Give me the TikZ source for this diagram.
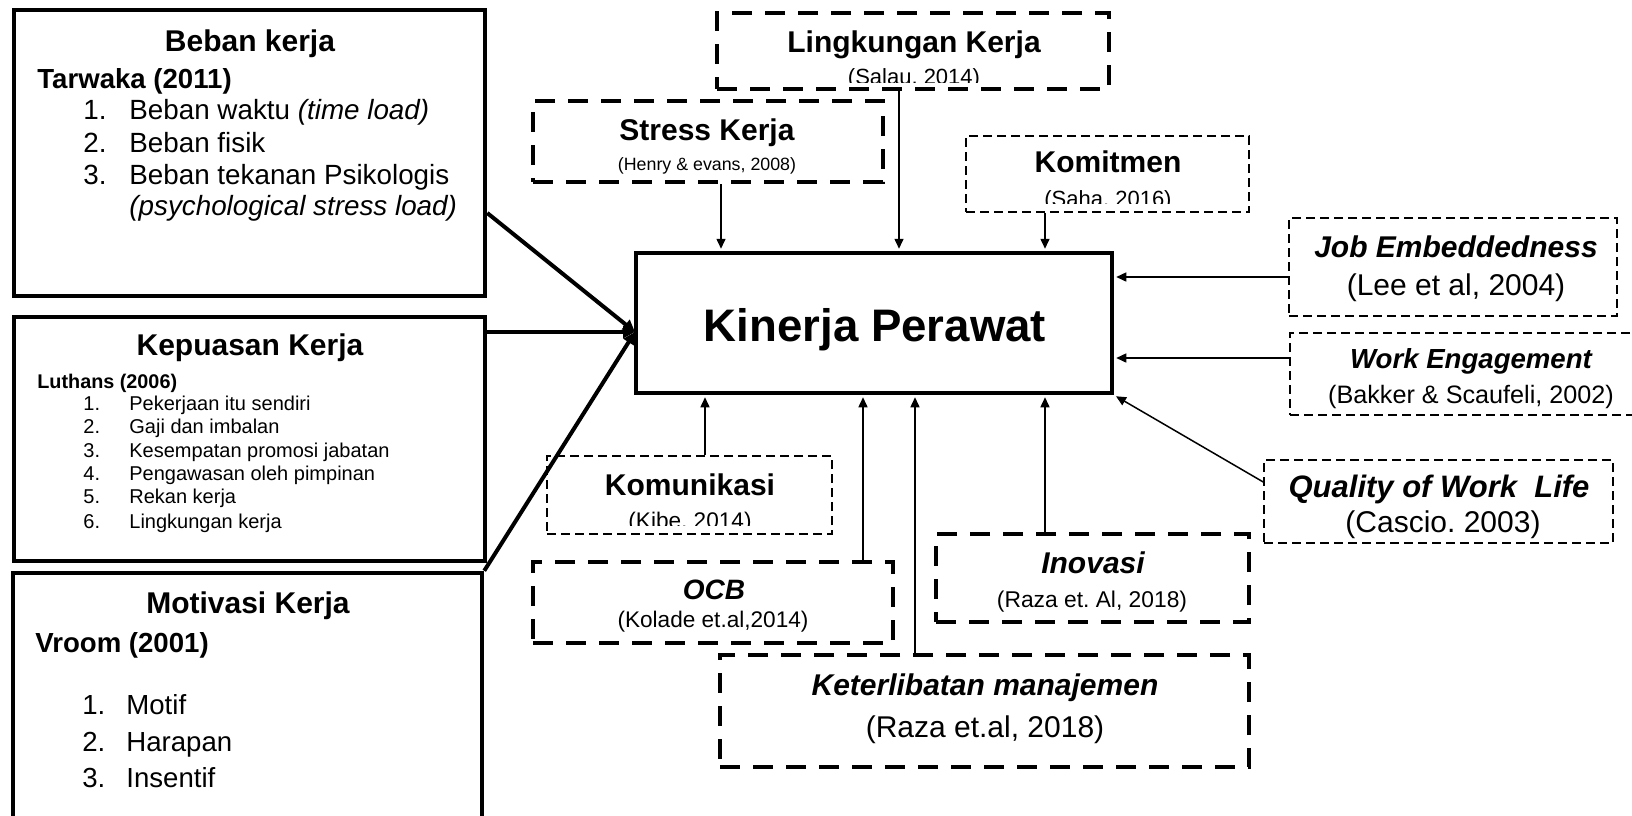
\documentclass[tikz,border=0pt]{standalone}
\usepackage{fontspec}
\setmainfont{Liberation Sans}
\usetikzlibrary{arrows.meta,fit}
\newcommand{\fsz}[1]{\fontsize{#1}{#1}\selectfont}
\frenchspacing
\begin{document}
\begin{tikzpicture}[x=0.5pt,y=-0.5pt,
  solidbox/.style={draw,line width=2.25pt,inner sep=0pt},
  thickdash/.style={draw,line width=2pt,dash pattern=on 10pt off 6.5pt,inner sep=0pt},
  thindash/.style={draw,line width=0.75pt,dash pattern=on 4.5pt off 2.5pt,inner sep=0pt},
  arr/.style={line width=0.75pt,-{Triangle[length=5pt,width=4.5pt]},shorten >=1pt},
  bigarr/.style={line width=2pt,-{Triangle[length=6pt,width=6pt]}},
  txt/.style={anchor=base,inner sep=0pt},
  lt/.style={anchor=base west,inner sep=0pt},
]
\clip (0,0) rectangle (1632,815);
\fill[white] (0,0) rectangle (1632,815);

% ---------- boxes ----------
\node[solidbox,fit={(14,10) (485,296)}] (beban) {};
\node[solidbox,fit={(14,317) (485,561)}] (kep) {};
\node[solidbox,fit={(13,573) (482,850)}] (mot) {};
\node[solidbox,fit={(636,253) (1112,393)}] (kin) {};
\node[thickdash,fit={(717,13) (1109,89)}] (ling) {};
\node[thickdash,fit={(533,101) (883,182)}] (stress) {};
\node[thindash,fit={(966,136) (1249,212)}] (kom) {};
\node[thindash,fit={(1289,218) (1617,316)}] (job) {};
\node[thindash,fit={(1290,333) (1650,415)}] (work) {};
\node[thindash,fit={(1264,460) (1613,543)}] (qwl) {};
\node[thindash,fit={(547,456) (832,534)}] (komu) {};
\node[thickdash,fit={(533,562) (893,643)}] (ocb) {};
\node[thickdash,fit={(936,534) (1249,622)}] (ino) {};
\node[thickdash,fit={(720,655) (1249,767)}] (ket) {};

% ---------- left boxes text ----------
\node[txt,font=\bfseries\fsz{15}] (bebanT) at (250,51) {Beban kerja};
\node[lt,font=\bfseries\fsz{13.8}] (tarwaka) at (37,88) {Tarwaka (2011)};
\node[lt,font=\fsz{13.9}] (b1n) at (83,119) {1.};
\node[lt,font=\fsz{13.9}] (b1) at (129,119) {Beban waktu \textit{(time load)}};
\node[lt,font=\fsz{13.9}] (b2n) at (83,152) {2.};
\node[lt,font=\fsz{13.9}] (b2) at (129,152) {Beban fisik};
\node[lt,font=\fsz{13.9}] (b3n) at (83,184) {3.};
\node[lt,font=\fsz{13.9}] (b3) at (129,184) {Beban tekanan Psikologis};
\node[lt,font=\itshape\fsz{13.9}] (b4) at (129,215) {(psychological stress load)};

\node[txt,font=\bfseries\fsz{15}] (kepT) at (250,355) {Kepuasan Kerja};
\node[lt,font=\bfseries\fsz{9.9}] (luthans) at (37,388) {Luthans (2006)};
\node[lt,font=\fsz{10}] (k1n) at (83,410) {1.};
\node[lt,font=\fsz{10}] (k1) at (129,410) {Pekerjaan itu sendiri};
\node[lt,font=\fsz{10}] (k2n) at (83,433) {2.};
\node[lt,font=\fsz{10}] (k2) at (129,433) {Gaji dan imbalan};
\node[lt,font=\fsz{10}] (k3n) at (83,457) {3.};
\node[lt,font=\fsz{10}] (k3) at (129,457) {Kesempatan promosi jabatan};
\node[lt,font=\fsz{10}] (k4n) at (83,480) {4.};
\node[lt,font=\fsz{10}] (k4) at (129,480) {Pengawasan oleh pimpinan};
\node[lt,font=\fsz{10}] (k5n) at (83,503) {5.};
\node[lt,font=\fsz{10}] (k5) at (129,503) {Rekan kerja};
\node[lt,font=\fsz{10}] (k6n) at (83,528) {6.};
\node[lt,font=\fsz{10}] (k6) at (129,528) {Lingkungan kerja};

\node[txt,font=\bfseries\fsz{15}] (motT) at (248,613) {Motivasi Kerja};
\node[lt,font=\bfseries\fsz{13.8}] (vroom) at (35,652) {Vroom (2001)};
\node[lt,font=\fsz{13.8}] (m1n) at (82,714) {1.};
\node[lt,font=\fsz{13.8}] (m1) at (126,714) {Motif};
\node[lt,font=\fsz{13.8}] (m2n) at (82,751) {2.};
\node[lt,font=\fsz{13.8}] (m2) at (126,751) {Harapan};
\node[lt,font=\fsz{13.8}] (m3n) at (82,787) {3.};
\node[lt,font=\fsz{13.8}] (m3) at (126,787) {Insentif};

% ---------- centre and other texts ----------
\node[txt,font=\bfseries\fsz{22.8}] (kinT) at (875,341) {Kinerja Perawat};

\node[txt,font=\bfseries\fsz{15}] (lingT) at (914,52) {Lingkungan Kerja};
\begin{scope}
  \clip ([yshift=4.5pt]ling.south west) rectangle (ling.north east);
  \node[txt,font=\fsz{11}] (salau) at (914,84) {(Salau, 2014)};
\end{scope}

\node[txt,font=\bfseries\fsz{15}] (stressT) at (707,140) {Stress Kerja};
\node[txt,font=\fsz{8.9}] (henry) at (707,170) {(Henry \& evans, 2008)};

\node[txt,font=\bfseries\fsz{15}] (komT) at (1108,172) {Komitmen};
\begin{scope}
  \clip ([yshift=4.5pt]kom.south west) rectangle (kom.north east);
  \node[txt,font=\fsz{11}] (saha) at (1108,206) {(Saha, 2016)};
\end{scope}

\node[txt,font=\bfseries\itshape\fsz{15}] (jobT) at (1456,257) {Job Embeddedness};
\node[txt,font=\fsz{15}] (lee) at (1456,295) {(Lee et al, 2004)};

\node[txt,font=\bfseries\itshape\fsz{13.8}] (workT) at (1471,368) {Work Engagement};
\node[txt,font=\fsz{12.6}] (bakker) at (1471,403) {(Bakker \& Scaufeli, 2002)};

\node[txt,font=\bfseries\itshape\fsz{15.5}] (qwlT) at (1439,497) {Quality of Work \ Life};
\node[txt,font=\fsz{15}] (cascio) at (1443,532) {(Cascio. 2003)};

\node[txt,font=\bfseries\fsz{15}] (komuT) at (690,495) {Komunikasi};
\begin{scope}
  \clip ([yshift=4.5pt]komu.south west) rectangle (komu.north east);
  \node[txt,font=\fsz{11.3}] (kibe) at (690,528) {(Kibe, 2014)};
\end{scope}

\node[txt,font=\bfseries\itshape\fsz{14}] (ocbT) at (714,599) {OCB};
\node[txt,font=\fsz{11.3}] (kolade) at (713,627) {(Kolade et.al,2014)};

\node[txt,font=\bfseries\itshape\fsz{15}] (inoT) at (1093,573) {Inovasi};
\node[txt,font=\fsz{11.4}] (raza1) at (1092,607) {(Raza et. Al, 2018)};

\node[txt,font=\bfseries\itshape\fsz{15}] (ketT) at (985,695) {Keterlibatan manajemen};
\node[txt,font=\fsz{15}] (raza2) at (985,737) {(Raza et.al, 2018)};

% ---------- helper coordinates ----------
\coordinate (x721) at (721,0);
\coordinate (x899) at (899,0);
\coordinate (x1045) at (1045,0);
\coordinate (x705) at (705,0);
\coordinate (x863) at (863,0);
\coordinate (x915) at (915,0);
\coordinate (y277) at (0,277);
\coordinate (y358) at (0,358);
\coordinate (y482) at (0,482);
\coordinate (y213) at (0,213);
\coordinate (conv) at (635,332);

% ---------- connectors ----------
\draw[arr] (stress.south -| x721) -- (kin.north -| x721);
\draw[arr] (ling.south -| x899) -- (kin.north -| x899);
\draw[arr] (kom.south -| x1045) -- (kin.north -| x1045);
\draw[arr] (job.west |- y277) -- (kin.east |- y277);
\draw[arr] (work.west |- y358) -- (kin.east |- y358);
\draw[arr] (qwl.west |- y482) -- (kin.south east);
\draw[arr] (komu.north -| x705) -- (kin.south -| x705);
\draw[arr] (ocb.north -| x863) -- (kin.south -| x863);
\draw[arr] (ket.north -| x915) -- (kin.south -| x915);
\draw[arr] (ino.north -| x1045) -- (kin.south -| x1045);

\draw[bigarr] (beban.east |- y213) -- (conv);
\draw[bigarr] (kep.east |- conv) -- (conv);
\draw[bigarr] (mot.north east) -- (conv);
\end{tikzpicture}
\end{document}
